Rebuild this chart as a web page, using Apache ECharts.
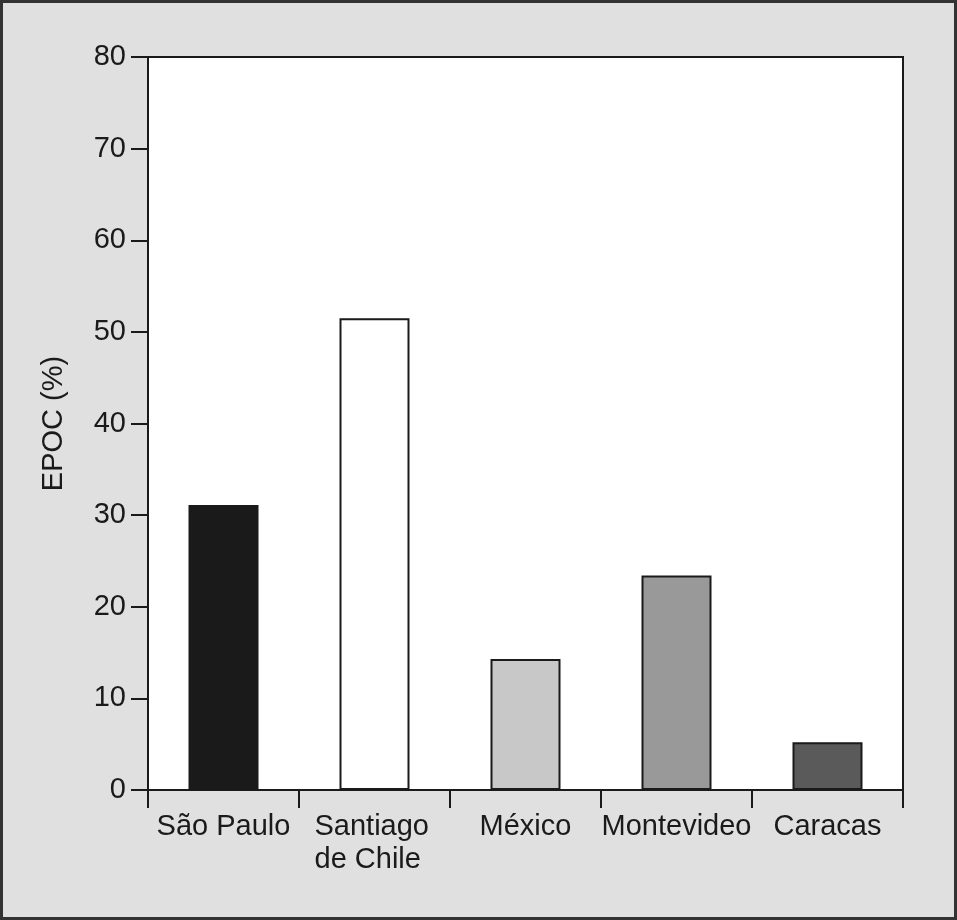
<!DOCTYPE html>
<html>
<head>
<meta charset="utf-8">
<script src="https://cdn.jsdelivr.net/npm/echarts@6/dist/echarts.min.js"></script>
<style>
  html, body { margin: 0; padding: 0; background: #e0e0e0; }
  #main { width: 957px; height: 920px; }
</style>
</head>
<body>
<div id="main"></div>
<script>
// data
var cities = ["São Paulo", "Santiago\nde Chile", "México", "Montevideo", "Caracas"];
var epoc = [31.1, 51.5, 14.3, 23.4, 5.2];
var yTicks = [0, 10, 20, 30, 40, 50, 60, 70, 80];

var barColors = ["#1a1a1a", "#ffffff", "#c8c8c8", "#999999", "#5a5a5a"];
var ink = "#1a1a1a";
var font = "Liberation Sans, Arial, Helvetica, sans-serif";

var myChart = echarts.init(document.getElementById("main"));

var option = {
  backgroundColor: "#e0e0e0",
  animation: false,
  graphic: [
    {
      type: "rect",
      shape: { x: 1.5, y: 1.5, width: 954, height: 917 },
      style: { fill: "none", stroke: "#333", lineWidth: 3 },
    },
  ],
  grid: {
    left: 148,
    right: 54,
    top: 57,
    bottom: 130,
    show: true,
    backgroundColor: "#fff",
    borderColor: ink,
    borderWidth: 2,
  },
  xAxis: {
    type: "category",
    data: cities,
    boundaryGap: true,
    axisLine: { lineStyle: { color: ink, width: 2 } },
    axisTick: { show: true, length: 18, lineStyle: { color: ink, width: 2 } },
    axisLabel: {
      color: ink,
      fontFamily: font,
      fontSize: 29,
      margin: 20,
      interval: 0,
      lineHeight: 33,
      formatter: function (v) {
        if (v.indexOf("\n") >= 0) {
          return v.split("\n").map(function (s) { return "{l|" + s + "}"; }).join("\n");
        }
        return v;
      },
      rich: {
        l: { width: 120, align: "left", fontSize: 29, fontFamily: font, color: ink, lineHeight: 33 },
      },
    },
  },
  yAxis: {
    type: "value",
    min: yTicks[0],
    max: yTicks[yTicks.length - 1],
    interval: yTicks[1] - yTicks[0],
    name: "EPOC (%)",
    nameLocation: "middle",
    nameGap: 80,
    nameTextStyle: { color: ink, fontFamily: font, fontSize: 29 },
    axisLine: { show: true, lineStyle: { color: ink, width: 2 } },
    axisTick: { show: true, length: 17, lineStyle: { color: ink, width: 2 } },
    axisLabel: { color: ink, fontFamily: font, fontSize: 29, margin: 22 },
    splitLine: { show: false },
  },
  series: [
    {
      type: "bar",
      barWidth: 70,
      data: epoc.map(function (v, i) {
        return {
          value: v,
          itemStyle: { color: barColors[i], borderColor: ink, borderWidth: 2 },
        };
      }),
    },
  ],
};

myChart.setOption(option);
</script>
</body>
</html>
